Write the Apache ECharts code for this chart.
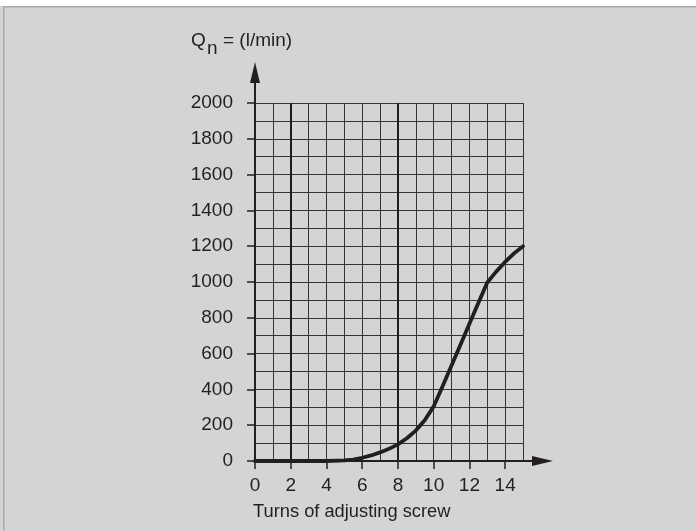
<!DOCTYPE html>
<html>
<head>
<meta charset="utf-8">
<script src="https://cdn.jsdelivr.net/npm/echarts@6/dist/echarts.min.js"></script>
<style>
html, body { margin: 0; padding: 0; background: #d3d4d6; }
#chart { width: 696px; height: 531px; }
</style>
</head>
<body>
<div id="chart"></div>
<script>
// ---- data ----
var turns = [0, 1, 2, 3, 4, 5, 5.5, 6, 6.5, 7, 7.5, 8, 8.5, 9, 9.5, 10, 10.5, 11, 11.5, 12, 12.5, 13, 13.5, 14, 14.5, 15];
var flow  = [0, 0, 0, 0, 0, 3, 8, 18, 31, 48, 68, 93, 127, 170, 228, 305, 418, 534, 650, 767, 883, 997, 1058, 1112, 1160, 1200];
var xTickLabels = ['0', '2', '4', '6', '8', '10', '12', '14'];
var yTickLabels = ['0', '200', '400', '600', '800', '1000', '1200', '1400', '1600', '1800', '2000'];
var boldGridX = [2, 8];
var yTitle = { q: 'Q', sub: 'n', rest: '= (l/min)' };
var xTitle = 'Turns of adjusting screw';

var points = turns.map(function (t, i) { return [t, flow[i]]; });

var FONT = '"Liberation Sans", Arial, Helvetica, sans-serif';
var INK = '#231f20';
var GRIDC = '#363636';

var chart = echarts.init(document.getElementById('chart'), null, { renderer: 'canvas' });

var option = {
  backgroundColor: '#d3d4d6',
  animation: false,
  grid: [
    { left: 255, top: 103, width: 268, height: 358, containLabel: false },
    { left: 255, top: 72.5, width: 287.5, height: 388.5, containLabel: false }
  ],
  xAxis: [
    { // minor grid lines
      type: 'value', gridIndex: 0, min: 0, max: 15, interval: 1, position: 'bottom',
      axisLine: { show: false }, axisTick: { show: false }, axisLabel: { show: false },
      splitLine: { show: true, lineStyle: { color: GRIDC, width: 1 } }
    },
    { // ticks and labels
      type: 'value', gridIndex: 0, min: 0, max: 15, interval: 2, position: 'bottom',
      axisLine: { show: false },
      axisTick: { show: true, inside: false, length: 8, lineStyle: { color: INK, width: 1.5 } },
      axisLabel: {
        show: true, margin: 15, fontFamily: FONT, fontSize: 19, color: INK,
        showMaxLabel: false,
        formatter: function (v) { return xTickLabels.indexOf(String(v)) >= 0 ? String(v) : ''; }
      },
      splitLine: { show: false }
    },
    { // axis line with arrow
      type: 'value', gridIndex: 1, min: 0, max: 1, position: 'bottom',
      axisLine: { show: true, symbol: ['none', 'triangle'], symbolSize: [10, 21], lineStyle: { color: INK, width: 2 } },
      axisTick: { show: false }, axisLabel: { show: false }, splitLine: { show: false }
    }
  ],
  yAxis: [
    {
      type: 'value', gridIndex: 0, min: 0, max: 2000, interval: 100, position: 'left',
      axisLine: { show: false }, axisTick: { show: false }, axisLabel: { show: false },
      splitLine: { show: true, lineStyle: { color: GRIDC, width: 1 } }
    },
    {
      type: 'value', gridIndex: 0, min: 0, max: 2000, interval: 200, position: 'left',
      axisLine: { show: false },
      axisTick: { show: true, inside: false, length: 8, lineStyle: { color: INK, width: 1.5 } },
      axisLabel: {
        show: true, margin: 22, fontFamily: FONT, fontSize: 19, color: INK,
        formatter: function (v) { return yTickLabels.indexOf(String(v)) >= 0 ? String(v) : ''; }
      },
      splitLine: { show: false }
    },
    {
      type: 'value', gridIndex: 1, min: 0, max: 1, position: 'left',
      axisLine: { show: true, symbol: ['none', 'triangle'], symbolSize: [10, 21], lineStyle: { color: INK, width: 2 } },
      axisTick: { show: false }, axisLabel: { show: false }, splitLine: { show: false }
    }
  ],
  series: [
    {
      type: 'line', xAxisIndex: 0, yAxisIndex: 0, data: points,
      symbol: 'none', smooth: false, z: 10,
      lineStyle: { color: INK, width: 3.8, cap: 'round', join: 'round' },
      markLine: {
        silent: true, symbol: ['none', 'none'], label: { show: false },
        lineStyle: { color: '#1e1e1e', width: 2, type: 'solid' },
        data: boldGridX.map(function (x) { return { xAxis: x }; })
      }
    }
  ],
  graphic: [
    { type: 'rect', shape: { x: 0, y: 0, width: 696, height: 6 }, style: { fill: '#ffffff' }, silent: true },
    { type: 'rect', shape: { x: 3, y: 6, width: 693, height: 1.5 }, style: { fill: '#a9aaac' }, silent: true },
    { type: 'rect', shape: { x: 3, y: 6, width: 1.5, height: 525 }, style: { fill: '#a9aaac' }, silent: true },
    { type: 'text', left: 191, top: 31, style: { text: yTitle.q, font: '19px ' + FONT, fill: INK } },
    { type: 'text', left: 207, top: 39, style: { text: yTitle.sub, font: '19px ' + FONT, fill: INK } },
    { type: 'text', left: 223, top: 31, style: { text: yTitle.rest, font: '19px ' + FONT, fill: INK } },
    { type: 'text', left: 253, top: 503, style: { text: xTitle, font: '18.3px ' + FONT, fill: INK } }
  ]
};
chart.setOption(option);
</script>
</body>
</html>
